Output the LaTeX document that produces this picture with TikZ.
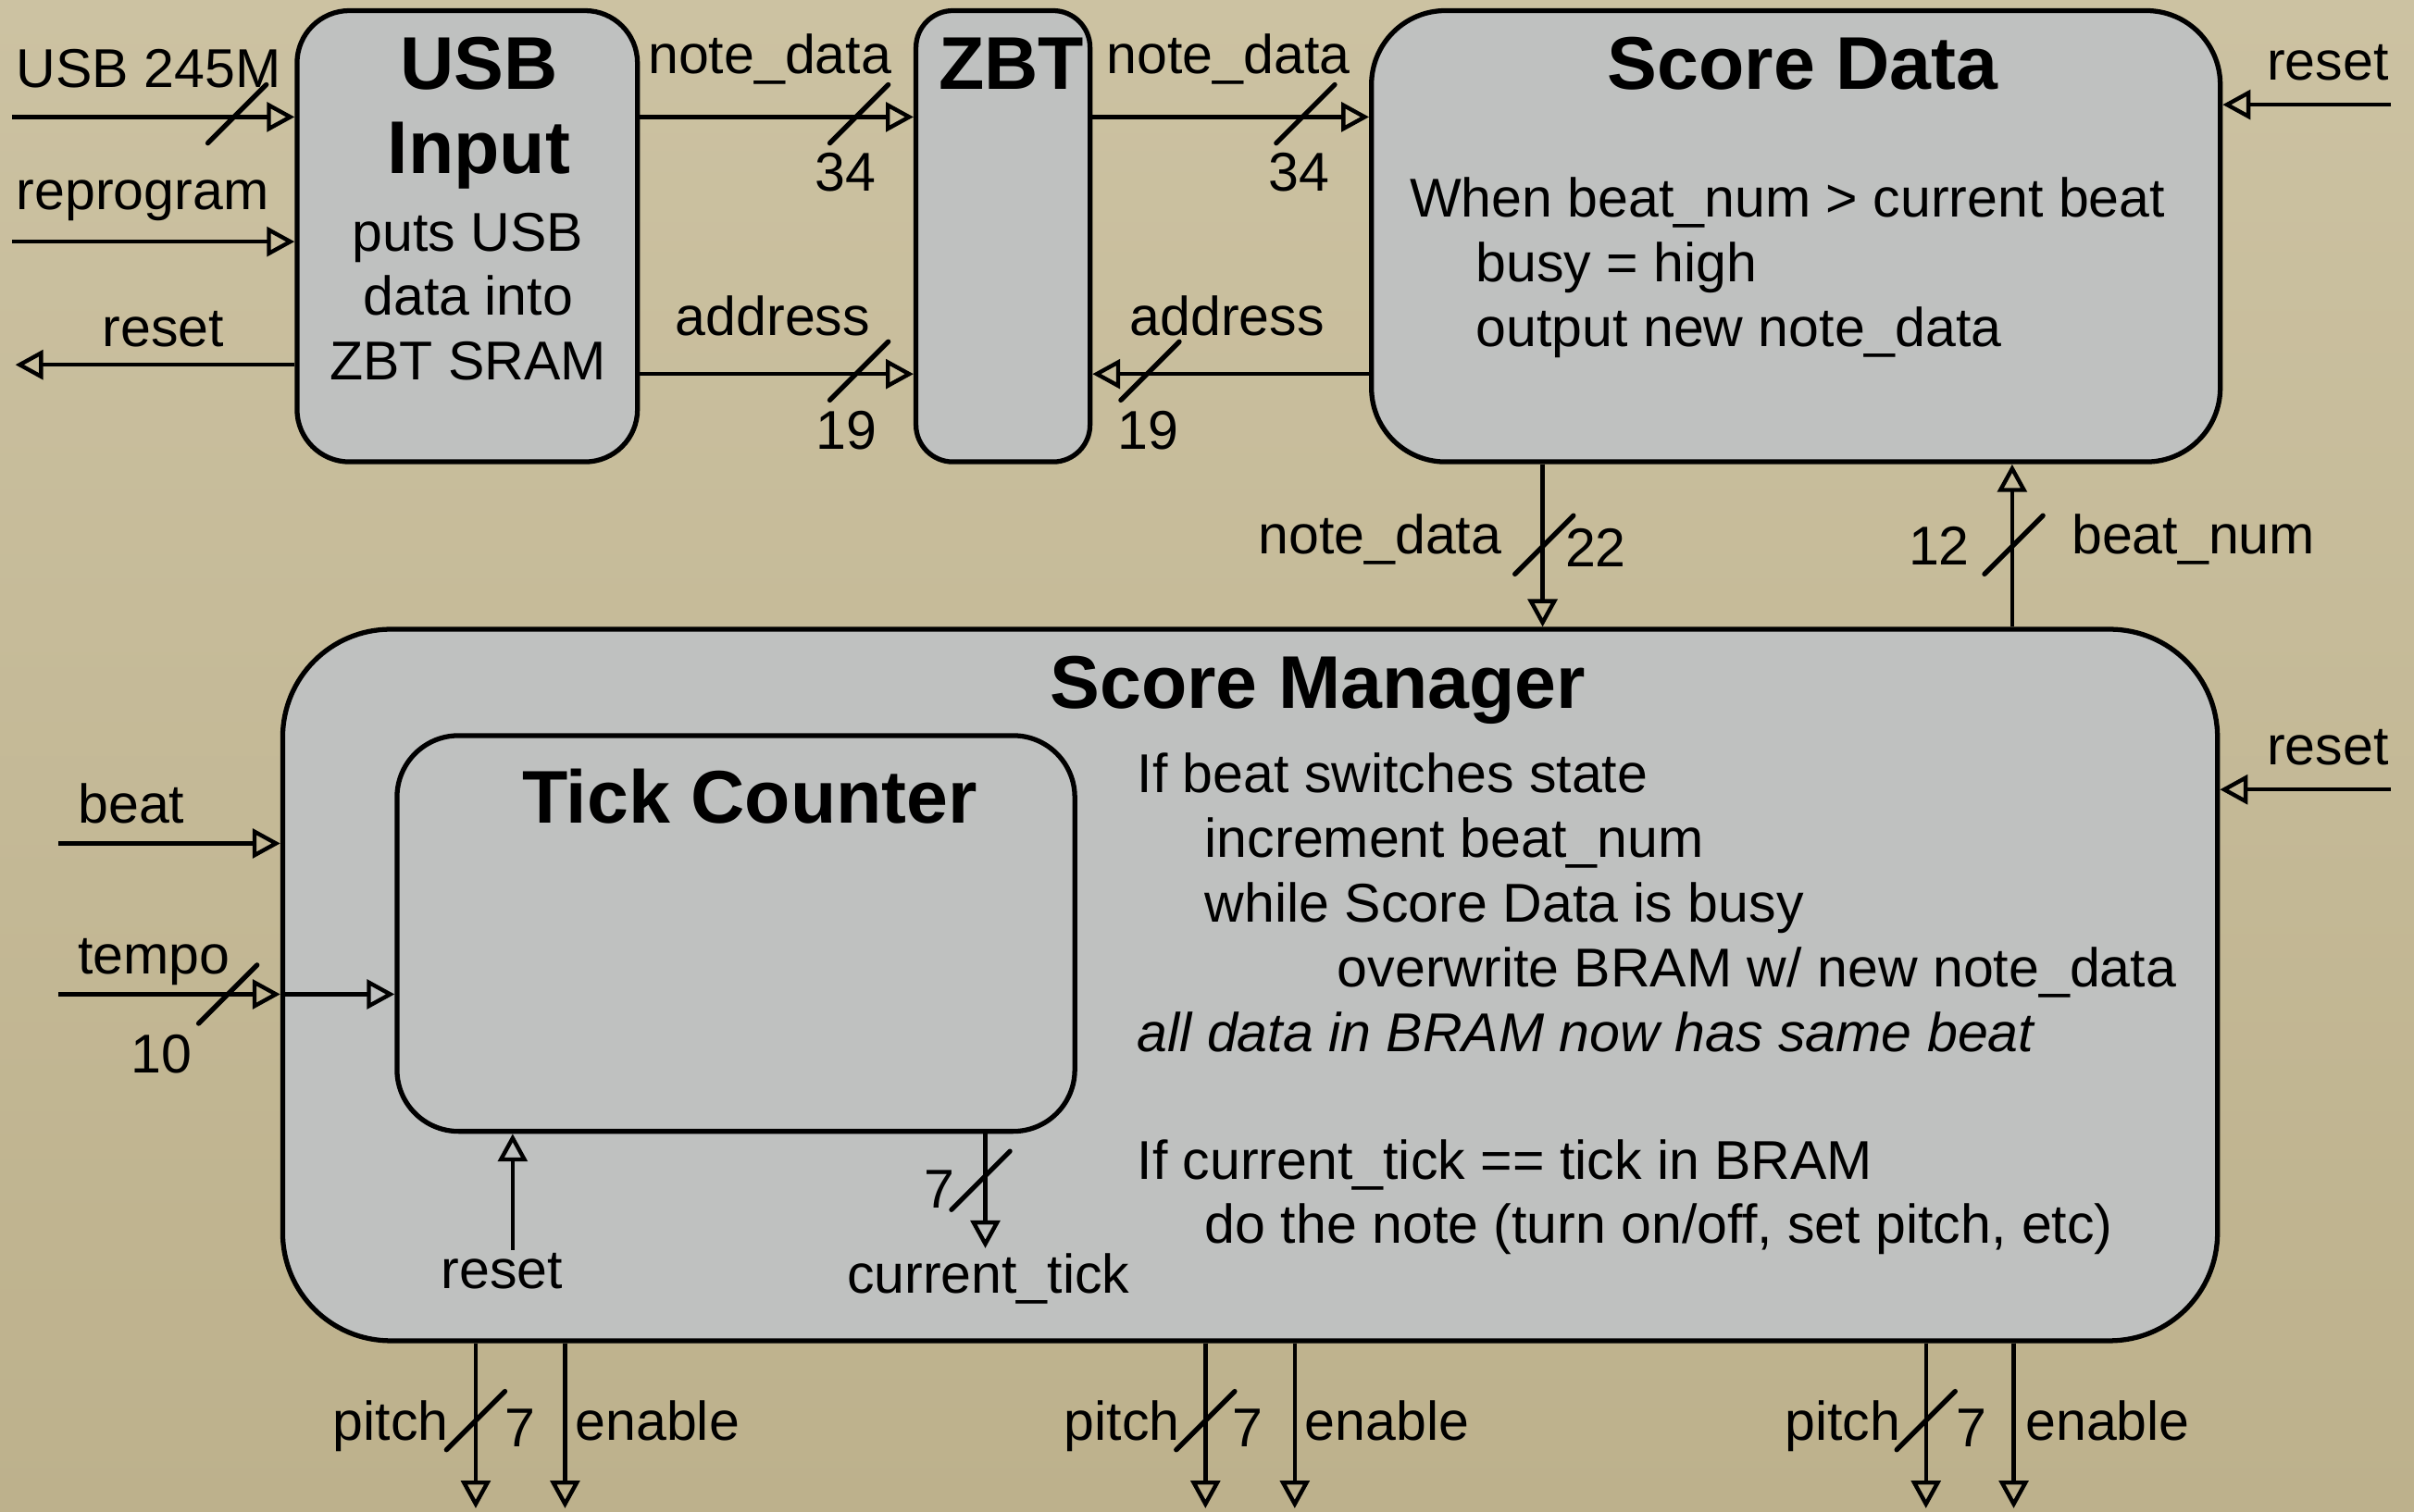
\documentclass[tikz,border=0pt]{standalone}
\usepackage{fontspec}
\setmainfont{Liberation Sans}
\usetikzlibrary{arrows.meta,calc}
\definecolor{parchtop}{RGB}{204,194,162}
\definecolor{parchbot}{RGB}{189,177,140}
\definecolor{boxgray}{RGB}{191,193,192}
\tikzset{
  block/.style={draw=black, line width=0.9pt, fill=boxgray, inner sep=0pt, rounded corners=#1},
  title/.style={font=\fontsize{13.8}{16}\selectfont\bfseries, inner sep=0pt, anchor=base},
  lbl/.style={font=\fontsize{10.1}{12}\selectfont, inner sep=0pt, anchor=base},
  lblw/.style={lbl, anchor=base west},
  lble/.style={lbl, anchor=base east},
  sig/.style={line width=0.75pt, -{Triangle[open,length=0.18cm,width=0.19cm]}},
  slash/.style={line width=0.9pt, line cap=round},
}
% short diagonal tick marking a bus
\newcommand\busslash[1]{\draw[slash] ($(#1)+(-19,19)$) -- ($(#1)+(19,-19)$);}
\begin{document}
\begin{tikzpicture}[x=0.01cm,y=-0.01cm]
% parchment background
\shade[top color=parchtop, bottom color=parchbot] (0,0) rectangle (1568,982);
\useasboundingbox (0,0) rectangle (1568,982);

% blocks
\node[block=0.34cm, minimum width=2.21cm, minimum height=2.93cm] (usb) at (303.5,153.5) {};
\node[block=0.24cm, minimum width=1.13cm, minimum height=2.93cm] (zbt) at (651.5,153.5) {};
\node[block=0.48cm, minimum width=5.51cm, minimum height=2.93cm] (sd) at (1166.5,153.5) {};
\node[block=0.70cm, minimum width=12.56cm, minimum height=4.62cm] (sm) at (812,640) {};
\node[block=0.40cm, minimum width=4.40cm, minimum height=2.57cm] (tc) at (478,606.5) {};

% block titles
\node[title] (usbT1) at (311,58) {USB};
\node[title] (usbT2) at (311,113) {Input};
\node[title] (zbtT) at (657,58) {ZBT};
\node[title] (sdT) at (1171,58) {Score Data};
\node[title] (smT) at (856,460) {Score Manager};
\node[title] (tcT) at (487,535) {Tick Counter};

% block descriptions
\node[lbl] (usbD1) at (304,163) {puts USB};
\node[lbl] (usbD2) at (304,205) {data into};
\node[lbl] (usbD3) at (304,247) {ZBT SRAM};
\node[lblw] (sdD1) at (915,141) {When beat\_num > current beat};
\node[lblw] (sdD2) at (958,183) {busy = high};
\node[lblw] (sdD3) at (958,225) {output new note\_data};
\node[lblw] (smD1) at (738,515) {If beat switches state};
\node[lblw] (smD2) at (782,557) {increment beat\_num};
\node[lblw] (smD3) at (782,599) {while Score Data is busy};
\node[lblw] (smD4) at (868,641) {overwrite BRAM w/ new note\_data};
\node[lblw] (smD5) at (738,683) {\itshape all data in BRAM now has same beat};
\node[lblw] (smD6) at (738,766) {If current\_tick == tick in BRAM};
\node[lblw] (smD7) at (782,808) {do the note (turn on/off, set pitch, etc)};

% free ends of the connectors
\coordinate (usbIn) at (8,76);
\coordinate (reprogIn) at (8,157);
\coordinate (usbRst) at (10,237);
\coordinate (adrY) at (0,243);
\coordinate (sdRst) at (1553,68);
\coordinate (noteX) at (1002,0);
\coordinate (beatX) at (1307,0);
\coordinate (smRst) at (1553,513);
\coordinate (beatIn) at (38,548);
\coordinate (tempoIn) at (38,646);
\coordinate (tcRst) at (333,812);
\coordinate (tickOut) at (640,811);
\coordinate (pitchA) at (309,980);
\coordinate (enA) at (367,980);
\coordinate (pitchB) at (783,980);
\coordinate (enB) at (841,980);
\coordinate (pitchC) at (1251,980);
\coordinate (enC) at (1308,980);

% USB Input connections
\draw[sig] (usbIn) -- (usbIn -| usb.west);
\draw[sig] (reprogIn) -- (reprogIn -| usb.west);
\draw[sig] (usbRst -| usb.west) -- (usbRst);
\busslash{154,74}
\node[lblw] (usbInL) at (10,57) {USB 245M};
\node[lblw] (reprogL) at (10,136) {reprogram};
\node[lbl] (usbRstL) at (106,225) {reset};

% USB Input -> ZBT
\draw[sig] (usb.east |- usbIn) -- (zbt.west |- usbIn);
\draw[sig] (usb.east |- adrY) -- (zbt.west |- adrY);
\busslash{558,74}
\busslash{558,241}
\node[lbl] (nd1L) at (500,48) {note\_data};
\node[lbl] (nd1W) at (549,124) {34};
\node[lbl] (ad1L) at (502,218) {address};
\node[lbl] (ad1W) at (550,292) {19};

% ZBT <-> Score Data
\draw[sig] (zbt.east |- usbIn) -- (sd.west |- usbIn);
\draw[sig] (sd.west |- adrY) -- (zbt.east |- adrY);
\busslash{848,74}
\busslash{747,241}
\node[lbl] (nd2L) at (798,48) {note\_data};
\node[lbl] (nd2W) at (844,124) {34};
\node[lbl] (ad2L) at (797,218) {address};
\node[lbl] (ad2W) at (746,292) {19};

% Score Data reset
\draw[sig] (sdRst) -- (sdRst -| sd.east);
\node[lbl] (sdRstL) at (1512,52) {reset};

% Score Data <-> Score Manager
\draw[sig] (sd.south -| noteX) -- (sm.north -| noteX);
\draw[sig] (sm.north -| beatX) -- (sd.south -| beatX);
\busslash{1003,354}
\busslash{1308,354}
\node[lble] (nd3L) at (976,360) {note\_data};
\node[lblw] (nd3W) at (1016,368) {22};
\node[lble] (bnW) at (1280,367) {12};
\node[lblw] (bnL) at (1345,360) {beat\_num};

% Score Manager inputs
\draw[sig] (smRst) -- (smRst -| sm.east);
\node[lbl] (smRstL) at (1512,497) {reset};
\draw[sig] (beatIn) -- (beatIn -| sm.west);
\node[lblw] (beatL) at (50,535) {beat};
\draw[sig] (tempoIn) -- (tempoIn -| sm.west);
\draw[sig] (sm.west |- tempoIn) -- (tc.west |- tempoIn);
\busslash{148,646}
\node[lblw] (tempoL) at (50,633) {tempo};
\node[lbl] (tempoW) at (105,697) {10};

% Tick Counter connections
\draw[sig] (tcRst) -- (tcRst |- tc.south);
\node[lbl] (tcRstL) at (326,837) {reset};
\draw[sig] (tc.south -| tickOut) -- (tickOut);
\busslash{637,767}
\node[lble] (tickW) at (621,785) {7};
\node[lbl] (tickL) at (642,840) {current\_tick};

% Score Manager outputs
\foreach \p/\e/\pl/\wl/\el in {pitchA/enA/292/327/373, pitchB/enB/767/800/847, pitchC/enC/1235/1270/1315}{
  \draw[sig] (sm.south -| \p) -- (\p);
  \draw[sig] (sm.south -| \e) -- (\e);
  \busslash{$(\p)+(0,-57)$}
  \node[lble] at (\pl,936) {pitch};
  \node[lblw] at (\wl,940) {7};
  \node[lblw] at (\el,936) {enable};
}
\end{tikzpicture}
\end{document}
